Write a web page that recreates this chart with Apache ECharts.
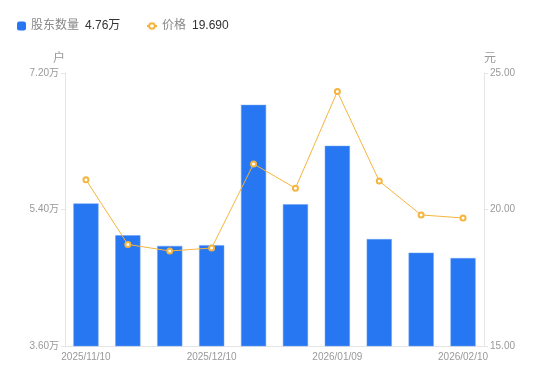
<!DOCTYPE html>
<html><head><meta charset="utf-8">
<script src="https://cdn.jsdelivr.net/npm/echarts@6/dist/echarts.min.js"></script>
<style>html,body{margin:0;padding:0;background:#fff}#c{width:550px;height:381px}</style>
</head><body><div id="c"></div>
<script>
const categories = ['2025/11/10','2025/11/20','2025/11/30','2025/12/10','2025/12/19','2025/12/31','2026/01/09','2026/01/20','2026/01/30','2026/02/10'];
const holders = [54800, 50600, 49200, 49300, 67800, 54700, 62400, 50100, 48300, 47600];
const prices = [21.09, 18.72, 18.48, 18.59, 21.67, 20.78, 24.32, 21.04, 19.80, 19.69];
const leftTicks = { min: 36000, max: 72000, interval: 18000 };
const rightTicks = { min: 15, max: 25, interval: 5 };
const FONT = "'Liberation Sans', 'Noto Sans CJK SC', sans-serif";
const chart = echarts.init(document.getElementById('c'), null, {renderer: 'canvas'});
const lastHolder = holders[holders.length - 1];
const lastPrice = prices[prices.length - 1];
const legendText = {
  fontFamily: FONT, fontSize: 12, color: '#888',
  rich: { n: { color: '#888', fontSize: 12, fontFamily: FONT }, v: { color: '#333', fontSize: 12, fontFamily: FONT, padding: [0,0,0,6] } }
};
const legendFmt = function (name) {
  if (name === '股东数量') return '{n|' + name + '}{v|' + (lastHolder / 10000).toFixed(2) + '万}';
  return '{n|' + name + '}{v|' + lastPrice.toFixed(3) + '}';
};
chart.setOption({
  animation: false,
  textStyle: { fontFamily: FONT },
  legend: [{
    left: 12, top: 15, itemWidth: 9, itemHeight: 9,
    data: [{ name: '股东数量', icon: 'roundRect', itemStyle: { borderWidth: 0 } }],
    textStyle: legendText, formatter: legendFmt
  }, {
    left: 141, top: 15, itemWidth: 10, itemHeight: 7,
    data: [{ name: '价格' }],
    textStyle: legendText, formatter: legendFmt
  }],
  grid: { left: 65, right: 66, top: 73, bottom: 35 },
  xAxis: {
    type: 'category', data: categories,
    axisLine: { lineStyle: { color: '#e5e5e5' } },
    axisTick: { show: false },
    axisLabel: { interval: 2, color: '#999', fontSize: 10, fontFamily: FONT, margin: 6 }
  },
  yAxis: [{
    type: 'value', name: '户', min: leftTicks.min, max: leftTicks.max, interval: leftTicks.interval,
    nameGap: 8, nameTextStyle: { color: '#999', fontSize: 12, fontFamily: FONT, padding: [0, 12, 0, 0] },
    axisLine: { show: true, lineStyle: { color: '#e5e5e5' } },
    axisTick: { show: true, length: 4, lineStyle: { color: '#e5e5e5' } },
    splitLine: { show: false },
    axisLabel: { color: '#999', fontSize: 10, fontFamily: FONT, margin: 6, formatter: v => (v / 10000).toFixed(2) + '万' }
  }, {
    type: 'value', name: '元', min: rightTicks.min, max: rightTicks.max, interval: rightTicks.interval,
    nameGap: 8, nameTextStyle: { color: '#999', fontSize: 12, fontFamily: FONT, padding: [0, 0, 0, 12] },
    axisLine: { show: true, lineStyle: { color: '#e5e5e5' } },
    axisTick: { show: true, length: 4, lineStyle: { color: '#e5e5e5' } },
    splitLine: { show: false },
    axisLabel: { color: '#999', fontSize: 10, fontFamily: FONT, margin: 6, formatter: v => v.toFixed(2) }
  }],
  series: [{
    name: '股东数量', type: 'bar', data: holders, barWidth: '60%', yAxisIndex: 0,
    itemStyle: { color: '#2777F2', borderColor: '#6aa0f5', borderWidth: 0.5 }
  }, {
    name: '价格', type: 'line', data: prices, yAxisIndex: 1,
    symbol: 'emptyCircle', symbolSize: 5,
    lineStyle: { color: '#F5B53D', width: 1 },
    itemStyle: { color: '#F5B53D', borderWidth: 2 }
  }]
});
</script></body></html>
